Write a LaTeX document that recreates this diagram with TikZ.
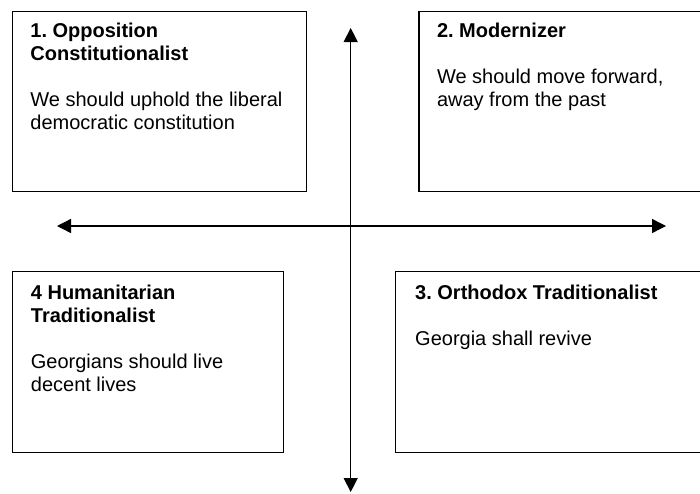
\documentclass[tikz,border=0pt]{standalone}
\usepackage{fontspec}
\setmainfont{Liberation Sans}
\usetikzlibrary{arrows.meta, positioning}
\frenchspacing

\begin{document}
\begin{tikzpicture}[
		x=1pt, y=-1pt,
		node distance=12pt and 18.5pt,
		quad/.style={draw, line width=1.3pt, anchor=north west, inner sep=0pt},
		txt/.style={align=left, inner sep=0pt, font=\fontsize{20}{23}\selectfont},
		arrow/.style={{Triangle[length=14pt, width=14pt]}-{Triangle[length=14pt, width=14pt]}, line width=1.3pt}
	]
	
		\useasboundingbox (0,0) rectangle (700,493);
		
		% Nodes
		\node[quad, minimum width=294pt, minimum height=180.3pt] (opp) at (11.7,10.7) {};
		\node[quad, minimum width=283.7pt, minimum height=180.3pt] (mod) at (418.3,10.7) {};
		\node[quad, minimum width=307pt, minimum height=181pt] (orth) at (395,270.7) {};
		\node[quad, minimum width=271.3pt, minimum height=181pt] (hum) at (11.7,270.7) {};
		
		\node[txt, below right=of opp.north west] (opptext) {\textbf{1. Opposition}\\\textbf{Constitutionalist}\\[23pt]We should uphold the liberal\\democratic constitution};
		\node[txt, below right=of mod.north west] (modtext) {\textbf{2. Modernizer}\\[23pt]We should move forward,\\away from the past};
		\node[txt, below right=14pt and 20pt of orth.north west] (orthtext) {\textbf{3. Orthodox Traditionalist}\\[23pt]Georgia shall revive};
		\node[txt, below right=14pt and 19pt of hum.north west] (humtext) {\textbf{4 Humanitarian}\\\textbf{Traditionalist}\\[23pt]Georgians should live\\decent lives};
		
		\coordinate (up) at (350.7,28);
		\coordinate (down) at (350.7,492);
		\coordinate (left) at (57,226);
		\coordinate (right) at (666,226);
		
		% Arrows
		\draw[arrow] (up) -- (down);
		\draw[arrow] (left) -- (right);
		
	\end{tikzpicture}
\end{document}
